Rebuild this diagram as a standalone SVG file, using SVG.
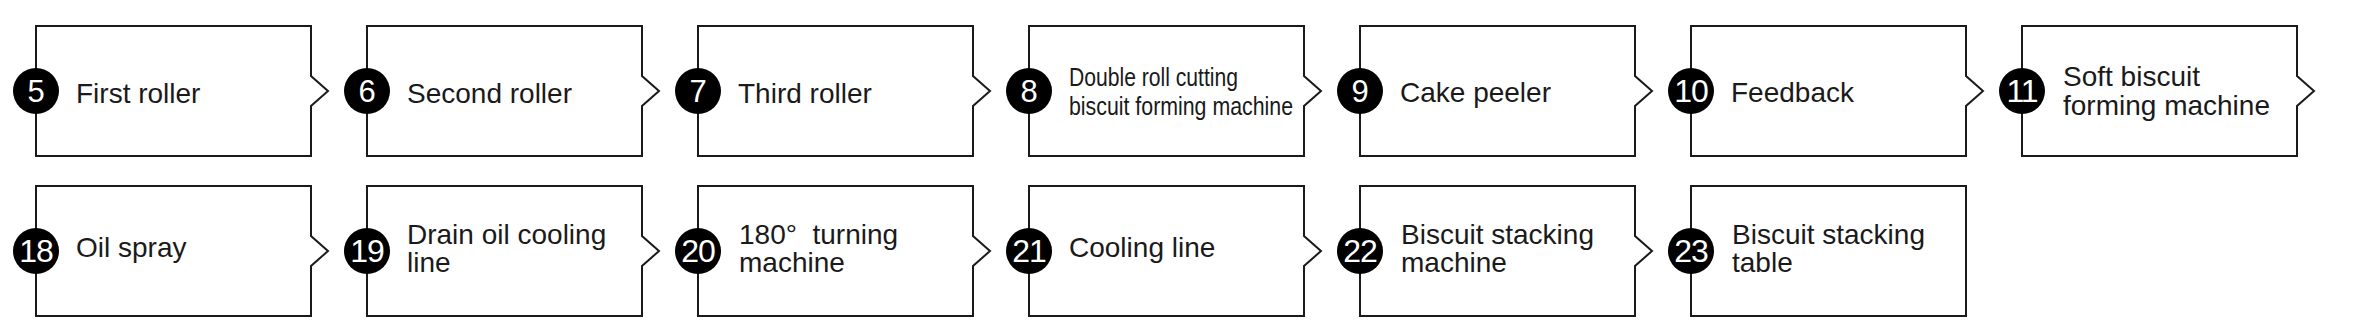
<svg xmlns="http://www.w3.org/2000/svg" width="2359" height="332" viewBox="0 0 2359 332">
<style>
.box{fill:#fff;stroke:#1a1a1a;stroke-width:2;stroke-linejoin:miter}
.dot{fill:#000}
.num{fill:#fff;font-family:"Liberation Sans",Arial,sans-serif;font-size:31px;text-anchor:middle}
.nn{font-size:32px;letter-spacing:-1px}
.lbl{fill:#1a1a1a;font-family:"Liberation Sans",Arial,sans-serif;font-size:28px}
.sm{fill:#1a1a1a;font-family:"Liberation Sans",Arial,sans-serif;font-size:26px}
</style>
<rect width="2359" height="332" fill="#fff"/>
<g id="n5"><path class="box" d="M36,26H311V76L328,91L311,106V156H36Z"/><circle class="dot" cx="36" cy="91" r="23"/><text class="num" x="36" y="102">5</text><text class="lbl" x="76" y="103">First roller</text></g>
<g id="n6"><path class="box" d="M367,26H642V76L659,91L642,106V156H367Z"/><circle class="dot" cx="367" cy="91" r="23"/><text class="num" x="367" y="102">6</text><text class="lbl" x="407" y="103">Second roller</text></g>
<g id="n7"><path class="box" d="M698,26H973V76L990,91L973,106V156H698Z"/><circle class="dot" cx="698" cy="91" r="23"/><text class="num" x="698" y="102">7</text><text class="lbl" x="738" y="103">Third roller</text></g>
<g id="n8"><path class="box" d="M1029,26H1304V76L1321,91L1304,106V156H1029Z"/><circle class="dot" cx="1029" cy="91" r="23"/><text class="num" x="1029" y="102">8</text><text class="sm" x="1069" y="86" textLength="169" lengthAdjust="spacingAndGlyphs">Double roll cutting</text><text class="sm" x="1069" y="115" textLength="224" lengthAdjust="spacingAndGlyphs">biscuit forming machine</text></g>
<g id="n9"><path class="box" d="M1360,26H1635V76L1652,91L1635,106V156H1360Z"/><circle class="dot" cx="1360" cy="91" r="23"/><text class="num" x="1360" y="102">9</text><text class="lbl" x="1400" y="102">Cake peeler</text></g>
<g id="n10"><path class="box" d="M1691,26H1966V76L1983,91L1966,106V156H1691Z"/><circle class="dot" cx="1691" cy="91" r="23"/><text class="num nn" x="1691" y="102">10</text><text class="lbl" x="1731" y="102">Feedback</text></g>
<g id="n11"><path class="box" d="M2022,26H2297V76L2314,91L2297,106V156H2022Z"/><circle class="dot" cx="2022" cy="91" r="23"/><text class="num nn" x="2022" y="102">11</text><text class="lbl" x="2063" y="86">Soft biscuit</text><text class="lbl" x="2063" y="115">forming machine</text></g>
<g id="n18"><path class="box" d="M36,186H311V236L328,251L311,266V316H36Z"/><circle class="dot" cx="36" cy="251" r="23"/><text class="num nn" x="36" y="262">18</text><text class="lbl" x="76" y="257">Oil spray</text></g>
<g id="n19"><path class="box" d="M367,186H642V236L659,251L642,266V316H367Z"/><circle class="dot" cx="367" cy="251" r="23"/><text class="num nn" x="367" y="262">19</text><text class="lbl" x="407" y="244">Drain oil cooling</text><text class="lbl" x="407" y="272">line</text></g>
<g id="n20"><path class="box" d="M698,186H973V236L990,251L973,266V316H698Z"/><circle class="dot" cx="698" cy="251" r="23"/><text class="num nn" x="698" y="262">20</text><text class="lbl" x="739" y="244">180°&#160; turning</text><text class="lbl" x="739" y="272">machine</text></g>
<g id="n21"><path class="box" d="M1029,186H1304V236L1321,251L1304,266V316H1029Z"/><circle class="dot" cx="1029" cy="251" r="23"/><text class="num nn" x="1029" y="262">21</text><text class="lbl" x="1069" y="257">Cooling line</text></g>
<g id="n22"><path class="box" d="M1360,186H1635V236L1652,251L1635,266V316H1360Z"/><circle class="dot" cx="1360" cy="251" r="23"/><text class="num nn" x="1360" y="262">22</text><text class="lbl" x="1401" y="244">Biscuit stacking</text><text class="lbl" x="1401" y="272">machine</text></g>
<g id="n23"><path class="box" d="M1691,186H1966V316H1691Z"/><circle class="dot" cx="1691" cy="251" r="23"/><text class="num nn" x="1691" y="262">23</text><text class="lbl" x="1732" y="244">Biscuit stacking</text><text class="lbl" x="1732" y="272">table</text></g>
</svg>
